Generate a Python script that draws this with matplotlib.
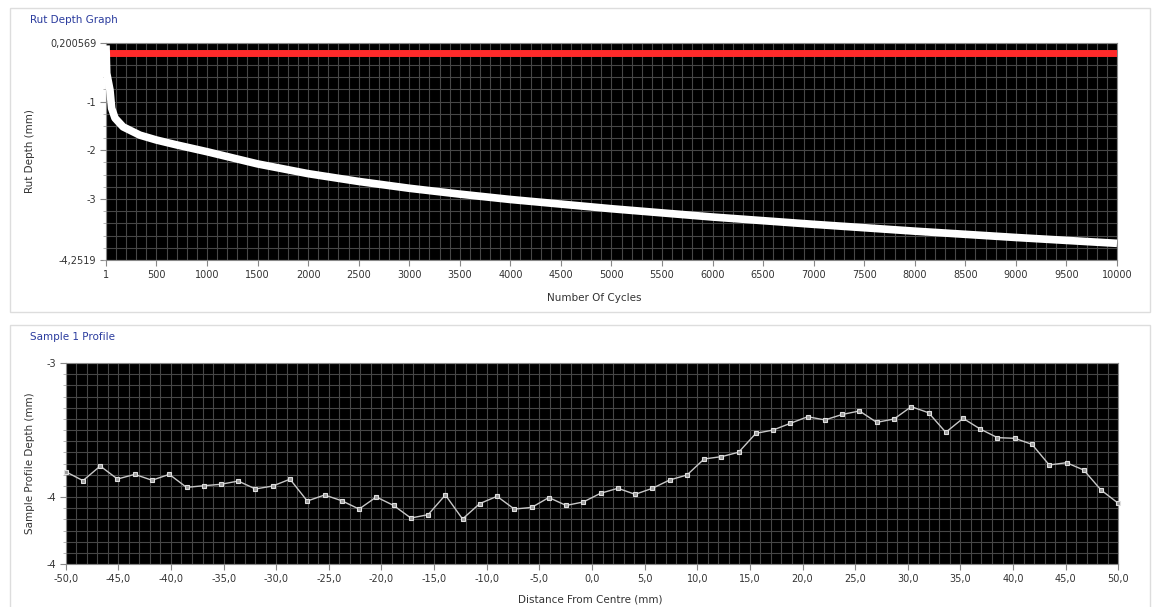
import matplotlib
matplotlib.use("Agg")
import matplotlib.pyplot as plt
from matplotlib.patches import Rectangle
from matplotlib.ticker import MultipleLocator

# Rut depth curve (cycles vs depth in mm)
cycles = [1, 8, 40, 57, 90, 170, 336, 500, 700, 1000, 1500, 2000, 2500, 3000,
          3500, 4000, 5000, 6000, 7000, 8000, 9000, 10000]
rut_depth = [0.15, -0.42, -0.76, -1.14, -1.34, -1.52, -1.69, -1.79, -1.89, -2.03,
             -2.28, -2.48, -2.64, -2.78, -2.90, -3.01, -3.20, -3.37, -3.52, -3.66,
             -3.79, -3.91]
limit_depth = 0.0
rut_ymin, rut_ymax = -4.2519, 0.200569
rut_yticks = [0.200569, -1, -2, -3, -4.2519]
rut_ytick_labels = ["0,200569", "-1", "-2", "-3", "-4,2519"]
cycle_ticks = [1, 500, 1000, 1500, 2000, 2500, 3000, 3500, 4000, 4500, 5000,
               5500, 6000, 6500, 7000, 7500, 8000, 8500, 9000, 9500, 10000]

# Sample 1 profile
distance = [-50.00, -48.36, -46.72, -45.08, -43.44, -41.80, -40.16, -38.52, -36.89,
            -35.25, -33.61, -31.97, -30.33, -28.69, -27.05, -25.41, -23.77, -22.13,
            -20.49, -18.85, -17.21, -15.57, -13.93, -12.30, -10.66, -9.02, -7.38,
            -5.74, -4.10, -2.46, -0.82, 0.82, 2.46, 4.10, 5.74, 7.38, 9.02, 10.66,
            12.30, 13.93, 15.57, 17.21, 18.85, 20.49, 22.13, 23.77, 25.41, 27.05,
            28.69, 30.33, 31.97, 33.61, 35.25, 36.89, 38.52, 40.16, 41.80, 43.44,
            45.08, 46.72, 48.36, 50.00]
profile_depth = [-3.811, -3.878, -3.769, -3.866, -3.831, -3.875, -3.831, -3.928,
                 -3.916, -3.905, -3.881, -3.940, -3.918, -3.867, -4.030, -3.985,
                 -4.028, -4.090, -4.000, -4.063, -4.157, -4.132, -3.985, -4.164,
                 -4.049, -3.995, -4.090, -4.078, -4.004, -4.063, -4.037, -3.972,
                 -3.935, -3.980, -3.935, -3.873, -3.836, -3.716, -3.699, -3.666,
                 -3.525, -3.500, -3.450, -3.401, -3.425, -3.384, -3.358, -3.443,
                 -3.418, -3.326, -3.371, -3.517, -3.413, -3.493, -3.557, -3.562,
                 -3.607, -3.761, -3.744, -3.799, -3.948, -4.047]
dist_ticks = [-50, -45, -40, -35, -30, -25, -20, -15, -10, -5, 0, 5, 10, 15, 20,
              25, 30, 35, 40, 45, 50]
prof_yticks = [-3, -4, -4.5]
prof_ytick_labels = ["-3", "-4", "-4"]

W, H = 1159, 607
fig = plt.figure(figsize=(W / 100, H / 100), dpi=100)
fig.patch.set_facecolor("white")


def fx(px):
    return px / W


def fy(py):
    return 1 - py / H


# panel frames (kept behind the axes)
for top, bot in [(8, 312), (325, 612)]:
    fig.patches.append(Rectangle((fx(10), fy(bot)), fx(1150 - 10), (bot - top) / H,
                                 transform=fig.transFigure, fc="white",
                                 ec="#dddddd", lw=1, zorder=-5))

title_color = "#2b3c9e"
fig.text(fx(30), fy(20), "Rut Depth Graph", color=title_color, fontsize=7.5, va="center")
fig.text(fx(30), fy(337), "Sample 1 Profile", color=title_color, fontsize=7.5, va="center")

tick_color = "#333333"
grid_color = "#474747"


def style_axes(ax):
    ax.set_facecolor("black")
    for s in ax.spines.values():
        s.set_color("#888888")
        s.set_linewidth(0.8)
    ax.tick_params(which="major", length=4, color="#888888", labelsize=7,
                   labelcolor=tick_color, pad=3)
    ax.tick_params(which="minor", length=2.5, color="#aaaaaa")
    ax.tick_params(axis="x", which="minor", length=0)
    ax.grid(True, which="both", color=grid_color, linewidth=0.8)
    ax.set_axisbelow(True)


# ------- Rut depth graph -------
ax1 = fig.add_axes([fx(106), fy(260), fx(1117 - 106), (260 - 43) / H])
style_axes(ax1)
ax1.axhline(limit_depth, color="#ff2a2a", lw=5, zorder=3)
ax1.plot(cycles, rut_depth, color="white", lw=5.5, solid_capstyle="butt", zorder=4,
         clip_on=False)
ax1.set_xlim(1, 10000)
ax1.set_ylim(rut_ymin, rut_ymax)
ax1.set_xticks(cycle_ticks)
ax1.set_xticklabels([str(c) for c in cycle_ticks])
ax1.set_yticks(rut_yticks)
ax1.set_yticklabels(rut_ytick_labels)
ax1.xaxis.set_minor_locator(MultipleLocator(100))
ax1.yaxis.set_minor_locator(MultipleLocator(0.25))
ax1.set_xlabel("Number Of Cycles", fontsize=7.5, color=tick_color)
ax1.set_ylabel("Rut Depth (mm)", fontsize=7.5, color=tick_color)
ax1.xaxis.set_label_coords(0.483, -0.152)
ax1.yaxis.set_label_coords(-0.070, 0.5)

# ------- Sample profile -------
ax2 = fig.add_axes([fx(65.7), fy(564), fx(1118.3 - 65.7), (564 - 363) / H])
style_axes(ax2)
ax2.plot(distance, profile_depth, color="#c8c8c8", lw=1, marker="s", ms=3.5,
         mfc="#9a9a9a", mec="#e0e0e0", mew=0.8, zorder=4, clip_on=False)
ax2.set_xlim(-50, 50)
ax2.set_ylim(-4.5, -3)
ax2.set_xticks(dist_ticks)
ax2.set_xticklabels([f"{d:.1f}".replace(".", ",") for d in dist_ticks])
ax2.set_yticks(prof_yticks)
ax2.set_yticklabels(prof_ytick_labels)
ax2.xaxis.set_minor_locator(MultipleLocator(1))
ax2.yaxis.set_minor_locator(MultipleLocator(1 / 12))
ax2.set_xlabel("Distance From Centre (mm)", fontsize=7.5, color=tick_color)
ax2.set_ylabel("Sample Profile Depth (mm)", fontsize=7.5, color=tick_color)
ax2.xaxis.set_label_coords(0.498, -0.150)
ax2.yaxis.set_label_coords(-0.029, 0.5)

fig.savefig("out.png", dpi=100, facecolor="white")
